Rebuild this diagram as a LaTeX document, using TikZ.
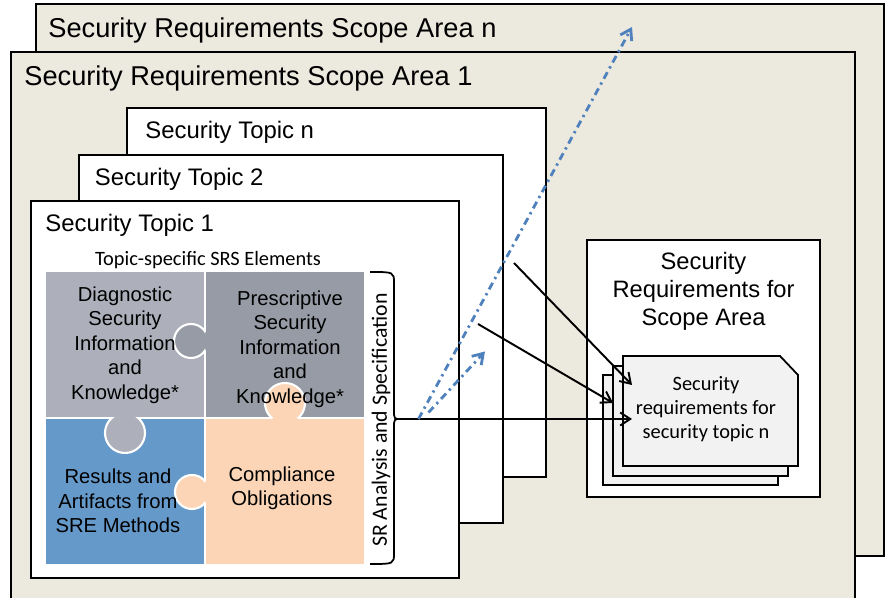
\documentclass[tikz,border=0pt]{standalone}
\usepackage{fontspec}
\setmainfont{Liberation Sans}
\newfontfamily\calibri{Carlito}
\usepackage{xcolor}
\usepackage{tikz}
\usetikzlibrary{arrows.meta,positioning,calc}

\definecolor{areabg}{HTML}{ECE9DF}
\definecolor{diaggray}{HTML}{ADB0BA}
\definecolor{prescgray}{HTML}{969BA5}
\definecolor{sreblue}{HTML}{6599CA}
\definecolor{complpeach}{HTML}{FBD5B5}
\definecolor{docgray}{HTML}{F2F2F2}
\definecolor{linkblue}{HTML}{4F81BD}

\begin{document}
\begin{tikzpicture}[
  areabox/.style={draw,line width=1pt,fill=areabg,anchor=north west,inner sep=0pt,outer sep=0pt},
  topicbox/.style={draw,line width=1pt,fill=white,anchor=north west,inner sep=0pt,outer sep=0pt},
  areatitle/.style={anchor=base west,inner sep=0pt,font=\fontsize{15.5}{18}\selectfont},
  topictitle/.style={anchor=base west,inner sep=0pt,font=\fontsize{13.6}{16}\selectfont},
  piece/.style={minimum width=3.18cm,minimum height=2.92cm,inner sep=0pt,outer sep=0pt},
  piecetext/.style={align=center,inner sep=0pt,font=\fontsize{11.5}{13.9}\selectfont},
  sheet/.style={draw,line width=1pt,fill=docgray,anchor=north west,inner sep=0pt,outer sep=0pt,
                minimum width=3.5cm,minimum height=2.2cm},
  arrow/.style={-{Straight Barb[length=2mm,width=2.6mm]},line width=1.1pt},
  scopearrow/.style={arrow,draw=linkblue,line width=1.6pt,dash pattern=on 4.2pt off 2.5pt on 1.3pt off 2.5pt},
]
\useasboundingbox (0,0) rectangle (17.72,11.96);

% scope areas
\node[areabox,minimum width=16.96cm,minimum height=11.04cm] (arean) at (0.72,11.88) {};
\node[areatitle] at ([shift={(0.24,-0.68)}]arean.north west) {Security Requirements Scope Area n};
\node[areabox,minimum width=16.88cm,minimum height=11.3cm] (area1) at (0.22,10.92) {};
\node[areatitle] at ([shift={(0.26,-0.68)}]area1.north west) {Security Requirements Scope Area 1};

% requirements collected per scope area
\node[topicbox,minimum width=4.66cm,minimum height=5.14cm] (reqbox) at (11.74,7.16) {};
\node[align=center,font=\fontsize{13.5}{15.9}\selectfont] (reqtitle) at ([yshift=-1.02cm]reqbox.north)
  {Security\\Requirements for\\Scope Area};
\node[sheet] (docback) at (12.06,4.46) {};
\node[sheet] (docmid) at (12.26,4.64) {};
\draw[line width=1pt,fill=docgray] (12.46,2.64) -- (12.46,4.84) -- (15.60,4.84)
  -- (15.96,4.46) -- (15.96,2.64) -- cycle;
\node[align=center,font=\calibri\fontsize{11.6}{13.6}\selectfont] (docfront) at (14.12,3.78)
  {Security\\requirements for\\security topic n};

% security topics
\node[topicbox,minimum width=8.38cm,minimum height=7.38cm] (topicn) at (2.54,9.80) {};
\node[topictitle] at ([shift={(0.36,-0.62)}]topicn.north west) {Security Topic n};
\node[topicbox,minimum width=8.48cm,minimum height=7.36cm] (topic2) at (1.58,8.86) {};
\node[topictitle] at ([shift={(0.31,-0.62)}]topic2.north west) {Security Topic 2};
\node[topicbox,minimum width=8.56cm,minimum height=7.54cm] (topic1) at (0.62,7.94) {};
\node[topictitle] at ([shift={(0.28,-0.61)}]topic1.north west) {Security Topic 1};

% puzzle of SRS elements
\node[font=\calibri\fontsize{11.6}{14}\selectfont] (elements) at (4.16,6.76) {Topic-specific SRS Elements};
\node[piece,fill=diaggray] (diag) at (2.51,5.06) {};
\node[piece,fill=prescgray] (presc) at (5.69,5.06) {};
\node[piece,fill=sreblue] (sre) at (2.51,2.14) {};
\node[piece,fill=complpeach] (compl) at (5.69,2.14) {};
\draw[white,line width=1.6pt] (diag.north east) -- (sre.south east);
\draw[white,line width=1.6pt] (diag.south west) -- (compl.north east);
% knobs
\fill[prescgray] (3.82,5.14) circle (0.34);
\begin{scope}
  \clip (diag.south west) rectangle (diag.north east);
  \draw[white,line width=1.2pt] (3.82,5.14) circle (0.34);
\end{scope}
\fill[diaggray] (2.50,3.30) circle (0.40);
\begin{scope}
  \clip (sre.south west) rectangle (sre.north east);
  \draw[white,line width=1.2pt] (2.50,3.30) circle (0.40);
\end{scope}
\fill[complpeach] (5.70,3.90) circle (0.40);
\begin{scope}
  \clip (presc.south west) rectangle (presc.north east);
  \draw[white,line width=1.2pt] (5.70,3.90) circle (0.40);
\end{scope}
\fill[complpeach] (3.84,2.12) circle (0.34);
\begin{scope}
  \clip (sre.south west) rectangle (sre.north east);
  \draw[white,line width=1.2pt] (3.84,2.12) circle (0.34);
\end{scope}
\node[piecetext] (diagtext) at (2.50,5.06) {Diagnostic\\Security\\Information\\and\\Knowledge*};
\node[piecetext] (presctext) at (5.80,4.98) {Prescriptive\\Security\\Information\\and\\Knowledge*};
\node[piecetext] (sretext) at (2.36,1.94) {Results and\\Artifacts from\\SRE Methods};
\node[piecetext] (compltext) at (5.64,2.20) {Compliance\\Obligations};

% brace and analysis step
\coordinate (bracetop) at (7.40,6.52);
\coordinate (bracebot) at (7.40,0.68);
\coordinate (bracetip) at (8.02,3.58);
\draw[line width=1pt] (bracetop) .. controls (7.88,6.52) .. (7.88,6.30) -- (7.88,3.76)
  .. controls (7.88,3.58) .. (bracetip) .. controls (7.88,3.58) .. (7.88,3.40)
  -- (7.88,0.90) .. controls (7.88,0.68) .. (bracebot);
\node[rotate=90,font=\calibri\fontsize{12.4}{14}\selectfont] (analysis) at (7.62,3.56)
  {SR Analysis and Specification};

% connectors
\coordinate (fork) at (8.37,3.58);
\coordinate (fork2) at (8.57,3.71);
\coordinate (fromn) at (10.28,6.70);
\coordinate (from2) at (9.56,5.48);
\coordinate (intofront) at (12.64,3.58);
\coordinate (intofront2) at (12.64,4.26);
\coordinate (intomid) at (12.26,3.90);
\coordinate (intoarean) at (12.64,11.42);
\coordinate (intotopicn) at (9.70,4.93);
\draw[arrow] (bracetip) -- (intofront);
\draw[arrow] (fromn) -- (intofront2);
\draw[arrow] (from2) -- (intomid);
\draw[scopearrow] (fork) -- (intoarean);
\draw[scopearrow] (fork2) -- (intotopicn);
\end{tikzpicture}
\end{document}
